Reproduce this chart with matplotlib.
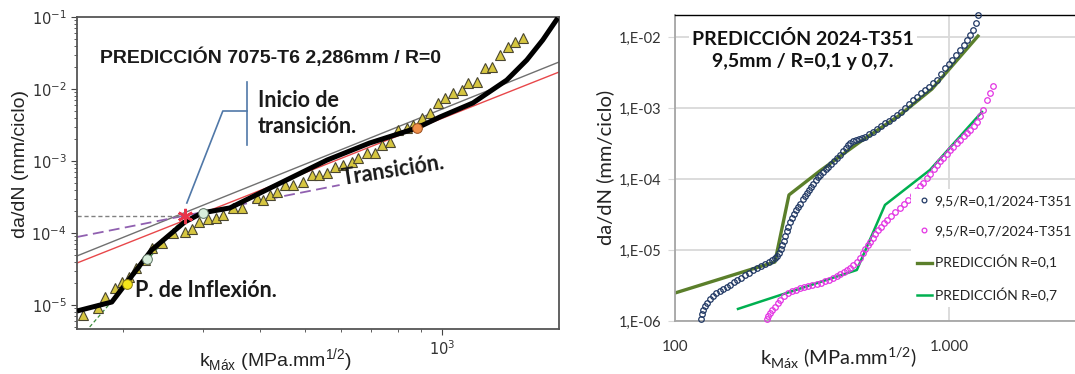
import matplotlib.pyplot as plt
import matplotlib.ticker as mticker
import numpy as np

# ---------------- left panel data (7075-T6, R=0) ----------------
pred_k = [158.5, 189, 231, 273, 298, 343, 420, 560, 695, 881, 990, 1170, 1388, 1536, 1665, 1796]
pred_y = [8.25e-6, 1.10e-5, 5.8e-5, 1.42e-4, 1.90e-4, 2.23e-4, 4.2e-4, 1.03e-3, 1.78e-3,
          2.87e-3, 4.08e-3, 6.4e-3, 1.33e-2, 2.53e-2, 4.8e-2, 9.7e-2]

tri_k = [163, 176, 183, 192, 199, 206, 214, 223, 232, 243, 257, 273, 284, 294, 307, 319, 332,
         348, 364, 393, 405, 420, 435, 452, 471, 496, 519, 537, 560, 582, 606, 635, 654, 685,
         713, 739, 769, 801, 838, 864, 904, 941, 980, 1015, 1057, 1106, 1140, 1193, 1243, 1288,
         1340, 1396, 1446, 1506]
tri_y = [7.3e-6, 9.1e-6, 1.29e-5, 1.72e-5, 2.08e-5, 2.45e-5, 3.27e-5, 4.2e-5, 6.2e-5, 7.3e-5,
         1.0e-4, 1.03e-4, 1.14e-4, 1.42e-4, 1.56e-4, 1.62e-4, 1.78e-4, 2.22e-4, 2.22e-4, 3.06e-4,
         2.87e-4, 3.37e-4, 3.71e-4, 4.64e-4, 4.64e-4, 5.1e-4, 6.4e-4, 6.4e-4, 6.8e-4, 8.3e-4,
         8.8e-4, 9.7e-4, 1.10e-3, 1.29e-3, 1.29e-3, 1.67e-3, 1.84e-3, 2.70e-3, 2.87e-3, 3.16e-3,
         3.96e-3, 4.64e-3, 6.4e-3, 7.5e-3, 8.8e-3, 9.7e-3, 1.21e-2, 1.25e-2, 1.96e-2, 2.02e-2,
         2.96e-2, 3.83e-2, 4.5e-2, 5.1e-2]

paris_gray_k = [158.5, 1807]
paris_gray_y = [4.8e-5, 2.37e-2]
paris_red_k = [158.5, 1807]
paris_red_y = [3.83e-5, 1.72e-2]
trans_k = [158.5, 597]
trans_y = [8.8e-5, 4.64e-4]
steep_k = [169, 266]
steep_y = [4.95e-6, 1.38e-4]
hline_k = [158.5, 273]
hline_y = [1.72e-4, 1.72e-4]
star_k, star_y = 273, 1.72e-4
inflex_k, inflex_y = 204, 1.96e-5
pale_k = [226, 299]
pale_y = [4.36e-5, 1.90e-4]
orange_k, orange_y = 881, 2.87e-3

# bracket of the "Inicio de transicion" note
brk_vert_k = [374, 374]
brk_vert_y = [1.25e-2, 1.67e-3]
brk_arm_k = [374, 331, 276]
brk_arm_y = [4.95e-3, 4.95e-3, 2.61e-4]

# ---------------- right panel data (2024-T351, 9,5 mm) ----------------
r01_k = [124.4, 125.5, 126.6, 128.7, 130.9, 134.2, 137.6, 141.1, 146.0, 149.7, 154.8, 158.8,
         164.2, 168.4, 174.1, 180.1, 186.3, 192.6, 199.2, 206.0, 213.1, 220.3, 225.9, 231.7,
         235.7, 239.7, 243.7, 245.8, 249.9, 252.1, 256.3, 258.5, 262.9, 267.3, 271.8, 276.5,
         281.1, 285.9, 293.2, 298.2, 303.2, 308.4, 313.6, 318.8, 327.0, 332.5, 338.2, 346.8,
         355.7, 361.7, 370.9, 380.4, 390.0, 400.1, 410.3, 420.8, 427.9, 435.2, 446.2, 457.7,
         469.3, 481.3, 493.6, 510.5, 527.9, 546.0, 564.7, 584.0, 604.0, 624.6, 646.0, 668.0,
         690.9, 714.5, 738.9, 764.2, 790.3, 817.4, 845.3, 874.2, 904.1, 935.0, 967.0, 1000,
         1025.4, 1060.5, 1096.7, 1134.2, 1163.2, 1192.9, 1223.4, 1254.6, 1275.9]
r01_y = [1.067e-6, 1.255e-6, 1.429e-6, 1.627e-6, 1.793e-6, 2.041e-6, 2.250e-6, 2.480e-6,
         2.646e-6, 2.822e-6, 3.011e-6, 3.214e-6, 3.543e-6, 3.779e-6, 4.032e-6, 4.445e-6,
         4.744e-6, 5.230e-6, 5.579e-6, 5.953e-6, 6.350e-6, 6.776e-6, 7.231e-6, 7.716e-6,
         8.231e-6, 9.072e-6, 1.033e-5, 1.176e-5, 1.339e-5, 1.575e-5, 1.852e-5, 2.109e-5,
         2.480e-5, 2.822e-5, 3.214e-5, 3.660e-5, 4.032e-5, 4.445e-5, 5.230e-5, 5.763e-5,
         6.350e-5, 7.000e-5, 7.716e-5, 8.503e-5, 9.681e-5, 1.067e-4, 1.138e-4, 1.255e-4,
         1.383e-4, 1.476e-4, 1.627e-4, 1.793e-4, 1.976e-4, 2.178e-4, 2.480e-4, 2.733e-4,
         3.011e-4, 3.214e-4, 3.429e-4, 3.543e-4, 3.660e-4, 3.779e-4, 3.904e-4, 4.302e-4,
         4.592e-4, 5.061e-4, 5.579e-4, 6.148e-4, 6.560e-4, 7.231e-4, 7.969e-4, 8.784e-4,
         1.000e-3, 1.138e-3, 1.296e-3, 1.429e-3, 1.627e-3, 1.793e-3, 1.976e-3, 2.250e-3,
         2.480e-3, 3.011e-3, 3.660e-3, 4.166e-3, 4.744e-3, 5.579e-3, 6.560e-3, 7.716e-3,
         9.072e-3, 1.067e-2, 1.255e-2, 1.575e-2, 2.041e-2]

r07_k = [216.7, 218.6, 222.3, 225.9, 231.7, 237.6, 241.7, 249.9, 258.5, 267.3, 276.5, 285.9,
         295.7, 305.8, 316.2, 329.8, 341.0, 352.7, 364.8, 377.2, 390.0, 400.1, 413.8, 424.3,
         435.2, 446.2, 461.5, 473.3, 485.4, 493.6, 506.3, 514.8, 527.9, 536.9, 550.7, 564.7,
         579.2, 593.9, 614.2, 635.2, 662.5, 685.2, 708.6, 738.9, 764.2, 783.8, 803.7, 831.1,
         852.5, 881.7, 904.1, 927.3, 950.9, 983.3, 1008.4, 1034.2, 1069.6, 1096.7, 1134.2,
         1163.2, 1192.9, 1233.9, 1265.4, 1297.5, 1330.7, 1376.2, 1411.3, 1447.4]
r07_y = [1.067e-6, 1.176e-6, 1.296e-6, 1.429e-6, 1.575e-6, 1.793e-6, 1.976e-6, 2.250e-6,
         2.480e-6, 2.646e-6, 2.733e-6, 2.916e-6, 3.011e-6, 3.112e-6, 3.214e-6, 3.320e-6,
         3.429e-6, 3.660e-6, 3.779e-6, 4.032e-6, 4.302e-6, 4.592e-6, 4.899e-6, 5.230e-6,
         5.579e-6, 6.148e-6, 6.776e-6, 7.716e-6, 9.072e-6, 1.033e-5, 1.176e-5, 1.296e-5,
         1.476e-5, 1.680e-5, 1.913e-5, 2.109e-5, 2.401e-5, 2.646e-5, 3.011e-5, 3.429e-5,
         3.904e-5, 4.445e-5, 5.061e-5, 5.953e-5, 7.000e-5, 7.969e-5, 8.784e-5, 1.033e-4,
         1.176e-4, 1.383e-4, 1.575e-4, 1.793e-4, 1.976e-4, 2.250e-4, 2.562e-4, 2.822e-4,
         3.214e-4, 3.543e-4, 4.032e-4, 4.445e-4, 4.899e-4, 5.579e-4, 6.350e-4, 7.716e-4,
         9.372e-4, 1.296e-3, 1.627e-3, 2.041e-3]

p01_k = [100, 231.6, 260.6, 338, 473, 662, 867, 1276]
p01_y = [2.48e-6, 6.78e-6, 5.96e-5, 1.30e-4, 3.32e-4, 7.96e-4, 1.85e-3, 1.03e-2]
p07_k = [169.8, 461, 584, 852, 1319]
p07_y = [1.48e-6, 5.23e-6, 4.31e-5, 1.34e-4, 8.8e-4]

y_ticks_r = [1e-6, 1e-5, 1e-4, 1e-3, 1e-2]
y_labels_r = ['1,E-06', '1,E-05', '1,E-04', '1,E-03', '1,E-02']
x_ticks_r = [100, 1000]
x_labels_r = ['100', '1.000']

fig = plt.figure(figsize=(10.75, 3.74), dpi=100)

# ================= left panel =================
ax = fig.add_axes([0.0716, 0.1203, 0.4484, 0.8342])
ax.set_xscale('log')
ax.set_yscale('log')
ax.set_xlim(158.5, 1807)
ax.set_ylim(4.64e-6, 0.1)

ax.plot(paris_gray_k, paris_gray_y, color='#707070', lw=1.0, zorder=2)
ax.plot(paris_red_k, paris_red_y, color='#e8474a', lw=1.0, zorder=2)
ax.plot(trans_k, trans_y, color='#9060b0', lw=1.3, ls=(0, (6, 3)), zorder=2)
ax.plot(hline_k, hline_y, color='#808080', lw=1.0, ls=(0, (3, 2)), zorder=2)
ax.plot(steep_k, steep_y, color='#3c8a3c', lw=0.9, ls=(0, (3, 2)), zorder=2)
ax.plot(tri_k, tri_y, ls='none', marker='^', ms=6.8, mfc='#d6c640', mec='#4a4630', mew=0.8, zorder=3)
ax.plot(pred_k, pred_y, color='black', lw=3.6, solid_capstyle='butt', zorder=4)
ax.plot(star_k, star_y, marker=(6, 2, 0), ms=11, mec='#e8364a', mew=1.8, ls='none', zorder=5)
ax.plot(inflex_k, inflex_y, marker='o', ms=7, mfc='#f5e51a', mec='#8a7a10', mew=0.7, ls='none', zorder=5)
ax.plot(pale_k, pale_y, marker='o', ms=7, mfc='#d8eedc', mec='#5a7060', mew=0.7, ls='none', zorder=5)
ax.plot(orange_k, orange_y, marker='o', ms=7, mfc='#f0904a', mec='#9a5020', mew=0.7, ls='none', zorder=5)

ax.plot(brk_vert_k, brk_vert_y, color='#5078a8', lw=1.2)
ax.plot(brk_arm_k, brk_arm_y, color='#5078a8', lw=1.2)

ax.text(0.048, 0.872, 'PREDICCIÓN 7075-T6 2,286mm / R=0', transform=ax.transAxes,
        fontsize=14, fontweight='bold', family='Liberation Sans', color='#1a1a1a', va='center')
ax.text(0.3755, 0.692, 'Inicio de\ntransición.', transform=ax.transAxes, fontsize=15.5,
        fontweight='bold', family='Lato', color='#1a1a1a', va='center', linespacing=1.3)
ax.text(0.552, 0.4615, 'Transición.', transform=ax.transAxes, fontsize=15.5, fontweight='bold',
        family='Lato', color='#1a1a1a', rotation=9, rotation_mode='anchor', ha='left', va='baseline')
ax.text(0.120, 0.125, 'P. de Inflexión.', transform=ax.transAxes, fontsize=15.5, fontweight='bold',
        family='Lato', color='#1a1a1a', va='center')

for s in ax.spines.values():
    s.set_color('#555555')
    s.set_linewidth(1.3)
ax.tick_params(which='both', colors='#444444', labelsize=10.5, labelcolor='#333333')
ax.tick_params(which='major', length=4)
ax.tick_params(which='minor', length=2.5)
ax.xaxis.set_minor_formatter(mticker.NullFormatter())

fig.text(0.019, 0.562, 'da/dN (mm/ciclo)', rotation=90, ha='center', va='center',
         fontsize=14, family='Liberation Sans', color='#222222')
fig.text(0.256, 0.036, r'k$_{\mathregular{Máx}}$ (MPa.mm$^{\mathregular{1/2}}$)', ha='center',
         va='center', fontsize=14, family='Liberation Sans', color='#222222')

# ================= right panel =================
bx = fig.add_axes([0.6279, 0.1417, 0.3721, 0.8182])
bx.set_xscale('log')
bx.set_yscale('log')
bx.set_xlim(100, 2884)
bx.set_ylim(1e-6, 0.0204)

bx.set_yticks(y_ticks_r)
bx.set_yticklabels(y_labels_r)
bx.set_xticks(x_ticks_r)
bx.set_xticklabels(x_labels_r)
bx.yaxis.set_minor_locator(mticker.NullLocator())
bx.xaxis.set_minor_locator(mticker.NullLocator())
bx.grid(True, axis='both', color='#d9d9d9', lw=1.3, zorder=0)
bx.set_axisbelow(True)

bx.plot(r01_k, r01_y, ls='none', marker='o', ms=4.0, mfc='none', mec='#203864', mew=0.9,
        label='9,5/R=0,1/2024-T351', zorder=3, clip_on=False)
bx.plot(r07_k, r07_y, ls='none', marker='o', ms=4.0, mfc='none', mec='#e335e3', mew=0.9,
        label='9,5/R=0,7/2024-T351', zorder=3, clip_on=False)
bx.plot(p01_k, p01_y, color='#5b7f2b', lw=2.4, label='PREDICCIÓN R=0,1', zorder=2)
bx.plot(p07_k, p07_y, color='#00b050', lw=1.8, label='PREDICCIÓN R=0,7', zorder=2)

for name in ['left', 'bottom']:
    bx.spines[name].set_color('#a6a6a6')
    bx.spines[name].set_linewidth(1.3)
bx.spines['top'].set_color('black')
bx.spines['top'].set_linewidth(1.0)
bx.spines['right'].set_visible(False)
bx.tick_params(axis='y', length=5, color='#d9d9d9', pad=5, labelsize=10.5, labelcolor='#333333')
bx.tick_params(axis='x', length=0, pad=14, labelsize=11, labelcolor='#333333')
for lab in bx.get_xticklabels() + bx.get_yticklabels():
    lab.set_family('Lato')

bx.text(0.32, 0.886, 'PREDICCIÓN 2024-T351\n9,5mm / R=0,1 y 0,7.', transform=bx.transAxes,
        ha='center', va='center', fontsize=14, fontweight='bold', family='Lato', color='#111111',
        linespacing=1.35, bbox=dict(facecolor='white', edgecolor='none', pad=2), zorder=6)

leg = bx.legend(loc='upper left', bbox_to_anchor=(0.59, 0.43), frameon=True, fancybox=False,
                edgecolor='none', facecolor='white', framealpha=1,
                prop={'family': 'Lato', 'size': 10},
                handlelength=1.1, handletextpad=0.2, labelspacing=1.3, borderpad=0.4,
                borderaxespad=0, markerscale=0.85)
leg.set_zorder(7)
for t in leg.get_texts():
    t.set_color('#222222')

fig.text(0.5628, 0.551, 'da/dN (mm/ciclo)', rotation=90, ha='center', va='center',
         fontsize=14.5, family='Lato', color='#222222')
fig.text(0.780, 0.043, r'k$_{\mathregular{Máx}}$ (MPa.mm$^{\mathregular{1/2}}$)', ha='center',
         va='center', fontsize=14.5, family='Lato', color='#222222')

fig.savefig('out.png', dpi=100)
